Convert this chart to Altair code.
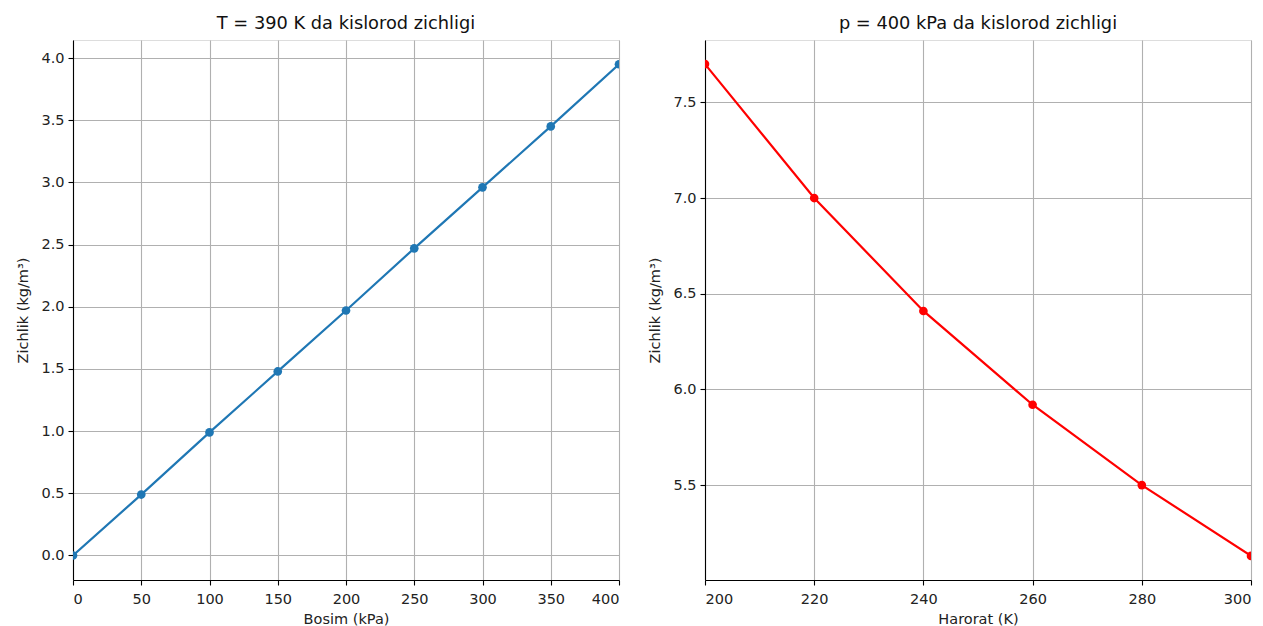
import altair as alt
import pandas as pd

pressure = [0, 50, 100, 150, 200, 250, 300, 350, 400]
density_p = [0.0, 0.49, 0.99, 1.48, 1.97, 2.47, 2.96, 3.45, 3.95]

temperature = [200, 220, 240, 260, 280, 300]
density_t = [7.70, 7.00, 6.41, 5.92, 5.50, 5.13]

df1 = pd.DataFrame({"p": pressure, "rho": density_p})
df2 = pd.DataFrame({"T": temperature, "rho": density_t})

FONT = "DejaVu Sans"

axis_cfg = dict(
    grid=True, gridColor="#b0b0b0", gridWidth=1.1,
    domainColor="black", domainWidth=1.1,
    tickColor="black", tickSize=5, tickWidth=1.1,
    labelFont=FONT, labelFontSize=14.5, labelColor="#222222",
    titleFont=FONT, titleFontSize=14.5, titleColor="#222222", titleFontWeight="normal",
)


def panel(df, xf, xdom, xticks, ydom, yticks, color, xtitle, title):
    x = alt.X(f"{xf}:Q", scale=alt.Scale(domain=xdom, nice=False, zero=False),
              axis=alt.Axis(values=xticks, format="d", title=xtitle, titlePadding=7,
                            labelPadding=7, **axis_cfg))
    y = alt.Y("rho:Q", scale=alt.Scale(domain=ydom, nice=False, zero=False),
              axis=alt.Axis(values=yticks, format=".1f", title="Zichlik (kg/m³)", titlePadding=10,
                            labelPadding=4, **axis_cfg))
    base = alt.Chart(df).encode(x=x, y=y)
    line = base.mark_line(color=color, strokeWidth=2.2, clip=True)
    pts = base.mark_circle(color=color, size=75, opacity=1, clip=True)
    return alt.layer(line, pts).properties(
        width=546, height=540,
        title=alt.TitleParams(title, font=FONT, fontSize=17.8, fontWeight="normal", color="#111111", offset=7),
    )


left = panel(df1, "p", [0, 400], pressure, [-0.197, 4.145],
             [0, 0.5, 1, 1.5, 2, 2.5, 3, 3.5, 4], "#1f77b4", "Bosim (kPa)",
             "T = 390 K da kislorod zichligi")
right = panel(df2, "T", [200, 300], temperature, [5.004, 7.826],
              [5.5, 6.0, 6.5, 7.0, 7.5], "#ff0000", "Harorat (K)",
              "p = 400 kPa da kislorod zichligi")

chart = alt.hconcat(left, right, spacing=26).configure_view(
    stroke="black", strokeWidth=1.1
).configure(background="white", padding={"left": 7, "top": 6, "right": 0, "bottom": 0})

chart.save("out.html", embed_options={"renderer": "svg", "actions": False})
